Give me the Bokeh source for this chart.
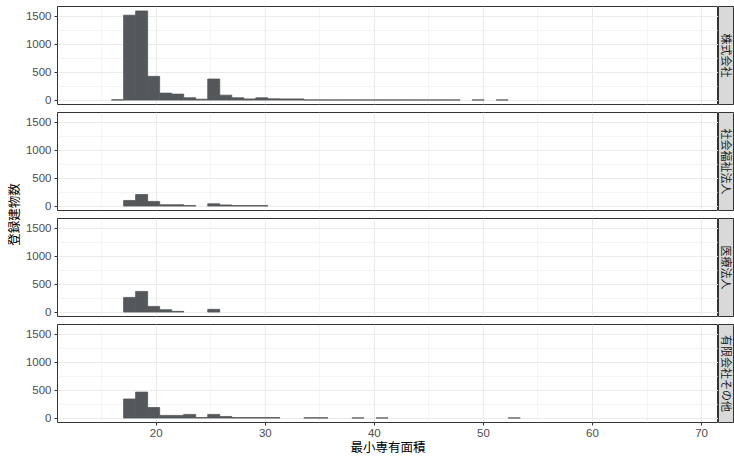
from math import pi
import numpy as np
from bokeh.plotting import figure
from bokeh.models import Range1d, FixedTicker, ColumnDataSource
from bokeh.layouts import row, column
from bokeh.core.properties import value
from bokeh.embed import file_html
from bokeh.resources import INLINE

# ---- data -------------------------------------------------------------
facets = ["株式会社", "社会福祉法人", "医療法人", "有限会社その他"]
x_min, x_max, n_bins = 14.25, 68.25, 50   # ggplot bins=50 over the data range

kabushiki = [0, 0, 4, 1518, 1594, 424, 124, 106, 41, 15,
             376, 88, 40, 20, 40, 22, 20, 20, 3, 3,
             2, 3, 3, 2, 3, 2, 3, 2, 2, 3,
             2, 0, 2, 0, 2, 0, 0, 0, 0, 0,
             0, 0, 0, 0, 0, 0, 0, 0, 0, 0]
shakai = [0, 0, 0, 100, 206, 83, 23, 23, 8, 0,
          40, 20, 8, 8, 8, 0, 0, 0, 0, 0,
          0, 0, 0, 0, 0, 0, 0, 0, 0, 0,
          0, 0, 0, 0, 0, 0, 0, 0, 0, 0,
          0, 0, 0, 0, 0, 0, 0, 0, 0, 0]
iryo = [0, 0, 0, 262, 369, 101, 42, 12, 0, 0,
        48, 0, 0, 0, 0, 0, 0, 0, 0, 0,
        0, 0, 0, 0, 0, 0, 0, 0, 0, 0,
        0, 0, 0, 0, 0, 0, 0, 0, 0, 0,
        0, 0, 0, 0, 0, 0, 0, 0, 0, 0]
yugen = [0, 0, 0, 341, 464, 188, 47, 47, 65, 10,
         65, 28, 8, 8, 8, 8, 0, 0, 4, 4,
         0, 0, 3, 0, 3, 0, 0, 0, 0, 0,
         0, 0, 0, 0, 0, 3, 0, 0, 0, 0,
         0, 0, 0, 0, 0, 0, 0, 0, 0, 0]
series = [kabushiki, shakai, iryo, yugen]

x_ticks = [20, 30, 40, 50, 60, 70]
x_minor = [15, 25, 35, 45, 55, 65]
y_ticks = [0, 500, 1000, 1500]
y_minor = [250, 750, 1250]

# ---- styles -----------------------------------------------------------
BAR = "#54585B"
GRID = "#EBEBEB"
BORDER = "#333333"
TICKTXT = "#4D4D4D"
STRIP_BG = "#D9D9D9"
NUM_FONT = "Liberation Sans"
CJK_FONT = "Noto Sans CJK JP"

# ---- binning (like ggplot) ---------------------------------------------
bw = (x_max - x_min) / (n_bins - 1)
edges = x_min - bw / 2 + bw * np.arange(n_bins + 1)
span = edges[-1] - edges[0]
xr = Range1d(edges[0] - 0.05 * span, edges[-1] + 0.05 * span)
ymax = max(max(s) for s in series)
yr = Range1d(-0.05 * ymax, 1.05 * ymax)

TOP_B = 6
FRAME_H = 98
GAP = 8
AX_B = 36
TITLE_W = 22
PANEL_W = 696
LEFT_B = 33
STRIP_W = 16

rows = []
for i, (name, counts) in enumerate(zip(facets, series)):
    last = i == len(facets) - 1
    top_b = TOP_B if i == 0 else 0
    bot_b = AX_B if last else GAP
    h = top_b + FRAME_H + bot_b
    p = figure(width=PANEL_W, height=h, x_range=xr, y_range=yr,
               output_backend="svg", toolbar_location=None,
               x_axis_location="below" if last else None,
               min_border_left=LEFT_B, min_border_right=0,
               min_border_top=top_b, min_border_bottom=bot_b)
    p.outline_line_color = BORDER
    p.outline_line_width = 1
    p.background_fill_color = "white"
    p.border_fill_color = "white"

    c = np.array(counts)
    m = c > 0
    src = ColumnDataSource(dict(left=edges[:-1][m], right=edges[1:][m], top=c[m]))
    p.quad(left="left", right="right", bottom=0, top="top", source=src,
           fill_color=BAR, line_color=BAR, line_width=0.8)

    # grids
    for g in p.xgrid:
        g.ticker = FixedTicker(ticks=x_ticks, minor_ticks=x_minor)
    p.xgrid.grid_line_color = GRID
    p.xgrid.grid_line_width = 1.1
    p.xgrid.minor_grid_line_color = GRID
    p.xgrid.minor_grid_line_width = 0.55
    p.yaxis.ticker = FixedTicker(ticks=y_ticks, minor_ticks=y_minor)
    p.ygrid.grid_line_color = GRID
    p.ygrid.grid_line_width = 1.1
    p.ygrid.minor_grid_line_color = GRID
    p.ygrid.minor_grid_line_width = 0.55

    for ax in p.yaxis + (p.xaxis if last else []):
        ax.axis_line_color = None
        ax.major_tick_line_color = BORDER
        ax.major_tick_out = 3
        ax.major_tick_in = 0
        ax.minor_tick_line_color = None
        ax.major_label_text_font = NUM_FONT
        ax.major_label_text_font_size = "11.5px"
        ax.major_label_text_color = TICKTXT
        ax.major_label_standoff = 2
    if last:
        p.xaxis.ticker = FixedTicker(ticks=x_ticks, minor_ticks=x_minor)
        p.xaxis.axis_label = "最小専有面積"
        p.xaxis.axis_label_text_font = CJK_FONT
        p.xaxis.axis_label_text_font_style = "normal"
        p.xaxis.axis_label_text_font_size = "12.5px"
        p.xaxis.axis_label_text_color = "black"
        p.xaxis.axis_label_standoff = -3

    # facet strip: same height and borders as its panel so the frames align
    s = figure(width=STRIP_W, height=h, x_range=Range1d(0, 1),
               y_range=Range1d(0, 1), output_backend="svg",
               toolbar_location=None, x_axis_location=None,
               y_axis_location=None, min_border_left=0, min_border_right=0,
               min_border_top=top_b, min_border_bottom=bot_b)
    s.grid.visible = False
    s.background_fill_color = STRIP_BG
    s.border_fill_color = "white"
    s.outline_line_color = BORDER
    s.outline_line_width = 1
    s.text(x=[0.5], y=[0.5], text=[name], angle=-pi / 2,
           text_align="center", text_baseline="middle",
           text_font=value(CJK_FONT), text_font_size="11px",
           text_color="#1A1A1A")
    rows.append(row(p, s))

panels = column(*rows)
total_h = TOP_B + 4 * FRAME_H + 3 * GAP + AX_B

# y-axis title shared by all panels
t = figure(width=TITLE_W, height=total_h, x_range=Range1d(0, TITLE_W),
           y_range=Range1d(0, total_h), output_backend="svg",
           toolbar_location=None, x_axis_location=None, y_axis_location=None,
           min_border_left=0, min_border_right=0, min_border_top=0,
           min_border_bottom=0)
t.grid.visible = False
t.outline_line_color = None
t.background_fill_color = "white"
t.border_fill_color = "white"
panel_mid = total_h - (TOP_B + (4 * FRAME_H + 3 * GAP) / 2)
t.text(x=[12.5], y=[panel_mid], text=["登録建物数"], angle=pi / 2,
       text_align="center", text_baseline="middle",
       text_font=value(CJK_FONT), text_font_size="12.5px", text_color="black")

layout = row(t, panels)
open("out.html", "w").write(file_html(layout, INLINE))
